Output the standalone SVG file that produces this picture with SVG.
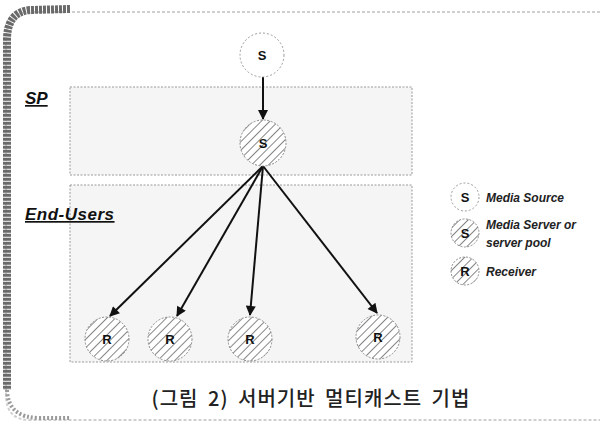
<svg xmlns="http://www.w3.org/2000/svg" width="608" height="428" viewBox="0 0 608 428">
<style>
.zone{fill:#f5f5f5;stroke:#9a9a9a;stroke-width:1;stroke-dasharray:2 1.5}
.hc{fill:url(#hatch);stroke:#8a8a8a;stroke-width:1;stroke-dasharray:2 1.5}
.oc{fill:#fff;stroke:#9a9a9a;stroke-width:1;stroke-dasharray:2 2}
.nl{font-family:"Liberation Sans",Arial,sans-serif;font-weight:bold;font-size:13px;fill:#111;text-anchor:middle}
.zl{font-family:"Liberation Sans",Arial,sans-serif;font-weight:bold;font-style:italic;font-size:17px;fill:#111;text-decoration:underline}
.lg{font-family:"Liberation Sans",Arial,sans-serif;font-style:italic;font-weight:bold;font-size:12px;fill:#222}
.cap{font-family:"Noto Sans CJK KR","Liberation Sans",sans-serif;font-weight:500;font-size:20px;fill:#222;text-anchor:middle;letter-spacing:1px;word-spacing:4px}
.arr{stroke:#111;stroke-width:2;fill:none;marker-end:url(#ah)}
</style>
<defs>
<pattern id="hatch" width="6" height="6" patternUnits="userSpaceOnUse" patternTransform="rotate(45)">
<rect width="6" height="6" fill="#fff"/>
<line x1="0" y1="0" x2="0" y2="6" stroke="#444" stroke-width="1.3"/>
</pattern>
<marker id="ah" viewBox="0 0 10 10" refX="9" refY="5" markerWidth="6" markerHeight="5" orient="auto" markerUnits="strokeWidth">
<path d="M0,0 L10,5 L0,10 z" fill="#111"/>
</marker>
</defs>
<rect width="608" height="428" fill="#fff"/>
<g id="frame">
<path d="M 600 12 L 30 12 Q 6 12 6 40 L 6 395 Q 6 420 30 420 L 600 420" fill="none" stroke="#cfcfcf" stroke-width="2" stroke-dasharray="3 2"/>
<path d="M 70 9 L 30 10 Q 7 12 7 40 L 7 390" fill="none" stroke="#6a6a6a" stroke-width="8" stroke-dasharray="3 1"/>
<path d="M 7 390 Q 8 418 40 418 L 70 418" fill="none" stroke="#9a9a9a" stroke-width="4" stroke-dasharray="2 2"/>
</g>
<g id="sp-zone">
<rect class="zone" x="70" y="87" width="342" height="88"/>
<text class="zl" x="25" y="104">SP</text>
</g>
<g id="end-users-zone">
<rect class="zone" x="70" y="185" width="342" height="177"/>
<text class="zl" x="25" y="220" letter-spacing="0.5">End-Users</text>
</g>
<g id="connectors">
<line class="arr" x1="263" y1="77" x2="263" y2="119"/>
<line class="arr" x1="263" y1="166" x2="110" y2="316"/>
<line class="arr" x1="263" y1="166" x2="177" y2="316"/>
<line class="arr" x1="263" y1="166" x2="250" y2="315"/>
<line class="arr" x1="263" y1="166" x2="377" y2="313"/>
</g>
<g id="source">
<circle class="oc" cx="262" cy="55" r="22"/>
<text class="nl" x="262" y="60">S</text>
</g>
<g id="server">
<circle class="hc" cx="263" cy="143" r="23"/>
<text class="nl" x="263" y="148">S</text>
</g>
<g id="r1">
<circle class="hc" cx="107" cy="339" r="22"/>
<text class="nl" x="107" y="344">R</text>
</g>
<g id="r2">
<circle class="hc" cx="170" cy="339" r="22"/>
<text class="nl" x="170" y="344">R</text>
</g>
<g id="r3">
<circle class="hc" cx="250" cy="339" r="22"/>
<text class="nl" x="250" y="344">R</text>
</g>
<g id="r4">
<circle class="hc" cx="378" cy="337" r="22"/>
<text class="nl" x="378" y="342">R</text>
</g>
<g id="legend">
<circle class="oc" cx="465" cy="197" r="14" stroke="#d0d0d0"/>
<text class="nl" x="465" y="202">S</text>
<text class="lg" x="486" y="202">Media Source</text>
<circle class="hc" cx="465" cy="233" r="14" stroke="#d0d0d0"/>
<text class="nl" x="465" y="238">S</text>
<text class="lg" x="486" y="229">Media Server or</text>
<text class="lg" x="486" y="247">server pool</text>
<circle class="hc" cx="465" cy="271" r="14" stroke="#d0d0d0"/>
<text class="nl" x="465" y="276">R</text>
<text class="lg" x="486" y="276">Receiver</text>
</g>
<text class="cap" x="311" y="406">(그림 2) 서버기반 멀티캐스트 기법</text>
</svg>
